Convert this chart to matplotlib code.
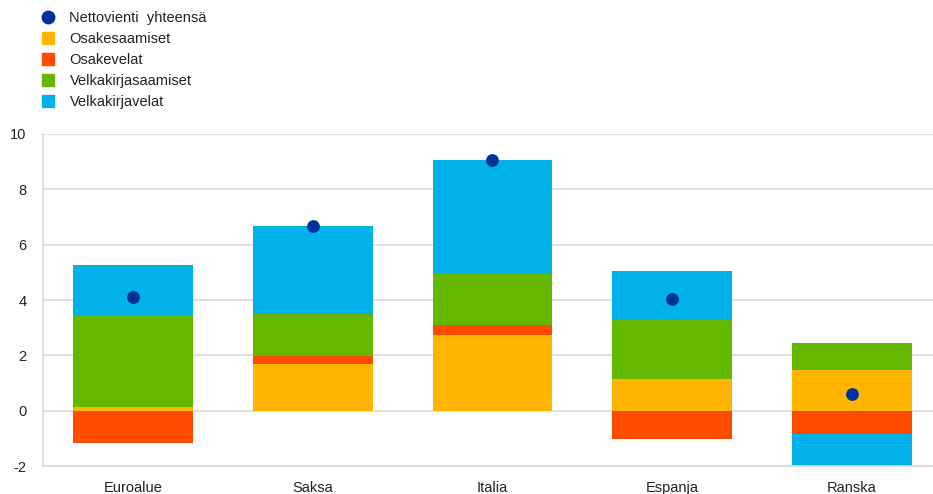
import matplotlib
matplotlib.use("Agg")
import matplotlib.pyplot as plt
import numpy as np
from matplotlib.lines import Line2D

plt.rcParams['font.family'] = ['Liberation Sans', 'DejaVu Sans']
plt.rcParams['axes.unicode_minus'] = False

categories = ["Euroalue", "Saksa", "Italia", "Espanja", "Ranska"]
osakesaamiset = [0.12, 1.69, 2.75, 1.14, 1.46]
osakevelat = [-1.18, 0.30, 0.36, -1.02, -0.84]
velkakirjasaamiset = [3.35, 1.51, 1.86, 2.13, 0.99]
velkakirjavelat = [1.79, 3.18, 4.10, 1.79, -1.20]
nettovienti = [4.12, 6.68, 9.07, 4.05, 0.60]

series = [
    ("Osakesaamiset", osakesaamiset, "#FFB400"),
    ("Osakevelat", osakevelat, "#FF4B00"),
    ("Velkakirjasaamiset", velkakirjasaamiset, "#65B800"),
    ("Velkakirjavelat", velkakirjavelat, "#00B1EA"),
]
dot_color = "#003299"
text_color = "#222222"

fig = plt.figure(figsize=(9.33, 4.94), dpi=100)
ax = fig.add_axes([43 / 933, 1 - 466 / 494, (933 - 43) / 933, (466 - 134) / 494])

x = np.arange(len(categories))
pos_base = np.zeros(len(categories))
neg_base = np.zeros(len(categories))
for name, vals, color in series:
    vals = np.asarray(vals, dtype=float)
    bottoms = np.where(vals >= 0, pos_base, neg_base)
    ax.bar(x, vals, width=0.667, bottom=bottoms, color=color, zorder=2, linewidth=0)
    pos_base = pos_base + np.where(vals >= 0, vals, 0)
    neg_base = neg_base + np.where(vals < 0, vals, 0)

ax.scatter(x, nettovienti, s=85, color=dot_color, zorder=3, linewidths=0)

ax.set_ylim(-2, 10)
ax.set_xlim(-0.5, 4.45)
ax.set_yticks(np.arange(-2, 11, 2))
ax.set_xticks(x)
ax.set_xticklabels(categories)
ax.yaxis.grid(True, color="#d9d9d9", linewidth=1.2, zorder=0)
ax.set_axisbelow(True)
for side in ["top", "right"]:
    ax.spines[side].set_visible(False)
for side in ["left", "bottom"]:
    ax.spines[side].set_color("#d9d9d9")
    ax.spines[side].set_linewidth(1.2)
ax.tick_params(axis="both", length=0, labelsize=10.5, colors=text_color)
ax.tick_params(axis="y", pad=12)
ax.tick_params(axis="x", pad=11)

handles = [Line2D([], [], marker="o", linestyle="none", markersize=9,
                  markerfacecolor=dot_color, markeredgecolor=dot_color)]
labels = ["Nettovienti  yhteensä"]
for name, vals, color in series:
    handles.append(Line2D([], [], marker="s", linestyle="none", markersize=9,
                          markerfacecolor=color, markeredgecolor=color))
    labels.append(name)
fig.legend(handles, labels, loc="upper left", bbox_to_anchor=(33 / 933, 1 - 5 / 494),
           frameon=False, fontsize=10.5, handlelength=1.2, handletextpad=0.9,
           labelspacing=0.48, borderaxespad=0, labelcolor=text_color)

fig.savefig("out.png", dpi=100)
